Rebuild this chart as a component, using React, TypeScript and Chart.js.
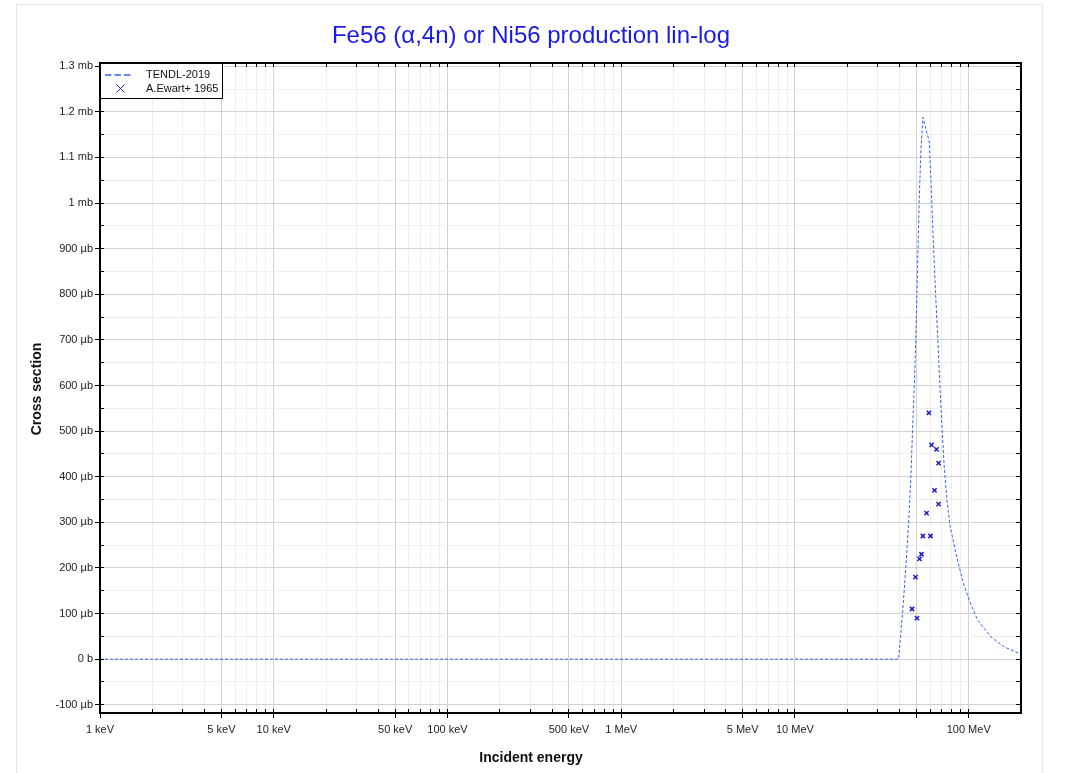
import React, { useEffect, useRef } from 'react';
import { Chart, registerables } from 'chart.js';

Chart.register(...registerables);

// ---------- data ----------
// TENDL-2019 evaluation: incident energy (MeV) and cross section (µb)
const TENDL_E = [0.001, 39.5, 41.6, 43.5, 45.1, 46.5, 47.5, 48.8, 49.7, 50.8, 51.9, 53.1, 54.5, 59.3, 60.6, 62.5, 64.8, 66.8, 68.3, 69.8, 72.3, 74.9, 78.3, 84.4, 92.1, 100.7, 112.4, 134.2, 160, 200];
const TENDL_XS = [0, 0, 100, 202, 298, 400, 502, 612, 714, 860, 1006, 1116, 1188, 1134, 1050, 920, 785, 680, 600, 525, 422, 349, 290, 232, 173, 129, 86, 49, 27, 11];

// A.Ewart+ 1965 measurements: incident energy (MeV) and cross section (µb)
const EWART_E = [59.0, 61.1, 65.3, 67.1, 63.6, 67.1, 57.2, 54.5, 60.3, 53.5, 52.1, 49.4, 47.2, 50.4];
const EWART_XS = [540, 470, 460, 430, 370, 340, 320, 270, 270, 230, 220, 180, 110, 90];

// axis ticks
const X_LABEL_VALUES = [0.001, 0.005, 0.01, 0.05, 0.1, 0.5, 1, 5, 10, 100];
const X_TICK_LABELS = ['1 keV', '5 keV', '10 keV', '50 keV', '100 keV', '500 keV', '1 MeV', '5 MeV', '10 MeV', '100 MeV'];
const Y_TICK_VALUES = [-100, 0, 100, 200, 300, 400, 500, 600, 700, 800, 900, 1000, 1100, 1200, 1300];
const Y_TICK_LABELS = ['-100 µb', '0 b', '100 µb', '200 µb', '300 µb', '400 µb', '500 µb', '600 µb', '700 µb', '800 µb', '900 µb', '1 mb', '1.1 mb', '1.2 mb', '1.3 mb'];

const TITLE = 'Fe56 (α,4n) or Ni56 production lin-log';
const X_TITLE = 'Incident energy';
const Y_TITLE = 'Cross section';
const LEGEND_LABELS = ['TENDL-2019', 'A.Ewart+ 1965'];

const X_MIN = 0.001;
const X_MAX = 200;
const Y_MIN = -118;
const Y_MAX = 1307;

const FONT = "'Liberation Sans', Arial, Helvetica, sans-serif";
const LINE_COLOR = '#3362f0';
const MARK_COLOR = '#1a1ad0';

// ---------- helpers ----------
function mantissa(v: number): number {
  const e = Math.floor(Math.log10(v) + 1e-9);
  return Math.round(v / Math.pow(10, e));
}
function isMajorX(v: number): boolean {
  const m = mantissa(v);
  return m === 1 || m === 5;
}
function buildXTicks(): number[] {
  const out: number[] = [];
  for (let e = -3; e <= 2; e++) {
    for (let m = 1; m <= 9; m++) {
      const v = Number((m * Math.pow(10, e)).toPrecision(6));
      if (v >= X_MIN * 0.999999 && v <= X_MAX * 1.000001) out.push(v);
    }
  }
  return out;
}
function buildYTicks(): number[] {
  const out: number[] = [];
  for (let v = -100; v <= 1300; v += 50) out.push(v);
  return out;
}
function xLabel(v: number): string {
  const i = X_LABEL_VALUES.findIndex((u) => Math.abs(u - v) / u < 1e-6);
  return i >= 0 ? X_TICK_LABELS[i] : '';
}
function yLabel(v: number): string {
  const i = Y_TICK_VALUES.indexOf(Math.round(v));
  return i >= 0 && Math.abs(Math.round(v) - v) < 1e-6 ? Y_TICK_LABELS[i] : '';
}
const align = (p: number) => Math.round(p - 0.5) + 0.5;

const decor = {
  id: 'decor',
  afterDraw(chart: any) {
    const ctx: CanvasRenderingContext2D = chart.ctx;
    const { left, right, top, bottom } = chart.chartArea;
    const xs = chart.scales.x;
    const ys = chart.scales.y;
    ctx.save();

    // outer panel border
    ctx.strokeStyle = '#e6e6e6';
    ctx.lineWidth = 1;
    ctx.strokeRect(16.5, 4.5, 1026, 800);

    // title
    ctx.fillStyle = '#1a1ae6';
    ctx.font = `24px ${FONT}`;
    ctx.textAlign = 'center';
    ctx.textBaseline = 'alphabetic';
    ctx.fillText(TITLE, 531, 43);

    // axis titles
    ctx.fillStyle = '#111';
    ctx.font = `bold 14px ${FONT}`;
    ctx.fillText(X_TITLE, 531, 762);
    ctx.save();
    ctx.translate(40.5, 389);
    ctx.rotate(-Math.PI / 2);
    ctx.fillText(Y_TITLE, 0, 0);
    ctx.restore();

    // tick marks
    ctx.strokeStyle = '#000';
    ctx.lineWidth = 1;
    ctx.beginPath();
    for (const t of xs.ticks) {
      const px = align(xs.getPixelForValue(t.value));
      const major = isMajorX(t.value);
      ctx.moveTo(px, bottom - 4);
      ctx.lineTo(px, bottom + (major ? 5 : 0));
      ctx.moveTo(px, top);
      ctx.lineTo(px, top + 4);
    }
    for (const t of ys.ticks) {
      const py = align(ys.getPixelForValue(t.value));
      const major = Math.round(t.value) % 100 === 0;
      ctx.moveTo(left - (major ? 5 : 0), py);
      ctx.lineTo(left + 4, py);
      ctx.moveTo(right - 5, py);
      ctx.lineTo(right, py);
    }
    ctx.stroke();

    // plot border
    ctx.lineWidth = 2;
    ctx.strokeRect(left, top, right - left, bottom - top);

    // legend
    const lx = left, ly = top, lw = 121, lh = 35;
    ctx.fillStyle = '#fff';
    ctx.fillRect(lx + 1, ly + 1, lw, lh);
    ctx.lineWidth = 1;
    ctx.strokeStyle = '#000';
    ctx.strokeRect(lx + 0.5, ly + 0.5, lw + 1, lh);
    ctx.lineWidth = 2;
    ctx.strokeRect(lx, ly, 0, lh); // keep the axis line intact
    // line sample
    ctx.strokeStyle = LINE_COLOR;
    ctx.lineWidth = 1.5;
    ctx.setLineDash([6.5, 3]);
    ctx.beginPath();
    ctx.moveTo(lx + 5, ly + 12);
    ctx.lineTo(lx + 32, ly + 12);
    ctx.stroke();
    ctx.setLineDash([]);
    // cross sample
    ctx.strokeStyle = MARK_COLOR;
    ctx.lineWidth = 1;
    const cx = lx + 20.5, cy = ly + 25.5, r = 4;
    ctx.beginPath();
    ctx.moveTo(cx - r, cy - r);
    ctx.lineTo(cx + r, cy + r);
    ctx.moveTo(cx - r, cy + r);
    ctx.lineTo(cx + r, cy - r);
    ctx.stroke();
    // labels
    ctx.fillStyle = '#111';
    ctx.font = `11px ${FONT}`;
    ctx.textAlign = 'left';
    ctx.textBaseline = 'middle';
    ctx.fillText(LEGEND_LABELS[0], lx + 46, ly + 12);
    ctx.fillText(LEGEND_LABELS[1], lx + 46, ly + 25.5);

    ctx.restore();
  },
};

export default function App() {
  const ref = useRef<HTMLCanvasElement>(null);

  useEffect(() => {
    if (!ref.current) return;
    Chart.defaults.font.family = FONT;
    const xTicks = buildXTicks();
    const yTicks = buildYTicks();
    const chart = new Chart(ref.current, {
      type: 'line',
      data: {
        datasets: [
          {
            type: 'line',
            label: LEGEND_LABELS[0],
            data: TENDL_E.map((e, i) => ({ x: e, y: TENDL_XS[i] })),
            borderColor: LINE_COLOR,
            borderWidth: 1,
            borderDash: [3, 2],
            pointRadius: 0,
            tension: 0,
            fill: false,
            order: 2,
          },
          {
            type: 'scatter',
            label: LEGEND_LABELS[1],
            data: EWART_E.map((e, i) => ({ x: e, y: EWART_XS[i] })),
            borderColor: MARK_COLOR,
            backgroundColor: MARK_COLOR,
            pointStyle: 'crossRot',
            pointRadius: 3,
            borderWidth: 1.5,
            showLine: false,
            order: 1,
          },
        ] as any,
      },
      options: {
        animation: false,
        responsive: false,
        devicePixelRatio: 1,
        events: [],
        layout: { padding: { left: 0, right: 48, top: 63, bottom: 0 } },
        plugins: {
          legend: { display: false },
          title: { display: false },
          tooltip: { enabled: false },
        },
        scales: {
          x: {
            type: 'logarithmic',
            min: X_MIN,
            max: X_MAX,
            border: { display: false },
            grid: {
              drawTicks: false,
              lineWidth: 1,
              color: (c: any) => (c.tick && isMajorX(c.tick.value) ? '#d2d2d2' : '#eeeeee'),
            },
            afterBuildTicks: (s: any) => {
              s.ticks = xTicks.map((v) => ({ value: v }));
            },
            afterFit: (s: any) => {
              s.height = 60;
            },
            ticks: {
              autoSkip: false,
              maxRotation: 0,
              minRotation: 0,
              padding: 10,
              color: '#222',
              font: { size: 11, family: FONT },
              callback: (v: any) => xLabel(Number(v)),
            },
          },
          y: {
            type: 'linear',
            min: Y_MIN,
            max: Y_MAX,
            border: { display: false },
            grid: {
              drawTicks: false,
              lineWidth: 1,
              color: (c: any) => (c.tick && Math.round(c.tick.value) % 100 === 0 ? '#d2d2d2' : '#eeeeee'),
            },
            afterBuildTicks: (s: any) => {
              s.ticks = yTicks.map((v) => ({ value: v }));
            },
            afterFit: (s: any) => {
              s.width = 100;
            },
            ticks: {
              autoSkip: false,
              padding: 7,
              color: '#222',
              font: { size: 11, family: FONT },
              callback: (v: any) => yLabel(Number(v)),
            },
          },
        },
      } as any,
      plugins: [decor],
    });
    return () => chart.destroy();
  }, []);

  return (
    <div style={{ position: 'absolute', left: 0, top: 0, width: 1069, height: 773, background: '#fff' }}>
      <canvas ref={ref} width={1069} height={773} style={{ display: 'block', width: 1069, height: 773 }} />
    </div>
  );
}
